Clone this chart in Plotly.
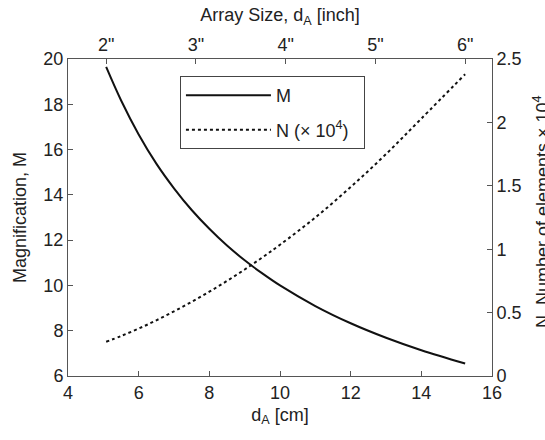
import plotly.graph_objects as go

# Array diameter (cm)
d_cm = [5.08, 5.5, 6.0, 6.5, 7.0, 7.5, 8.0, 8.5, 9.0, 9.5, 10.0, 11.0, 12.0, 13.0, 14.0, 15.24]
# Magnification M
mag = [19.65, 18.18, 16.67, 15.38, 14.29, 13.33, 12.5, 11.76, 11.11, 10.53, 10.0, 9.09, 8.33, 7.69, 7.14, 6.55]
# Number of elements (x 1e4)
n_elem = [0.27, 0.315, 0.374, 0.439, 0.51, 0.585, 0.665, 0.75, 0.84, 0.935, 1.035, 1.25, 1.49, 1.75, 2.03, 2.38]

inch_ticks = [2, 3, 4, 5, 6]
inch_labels = ['2"', '3"', '4"', '5"', '6"']
CM_PER_INCH = 2.54

FONT = "Liberation Sans, Arial, sans-serif"
FS = 18
TXT = "#222222"
AX = "#555555"

fig = go.Figure()
fig.add_trace(go.Scatter(x=d_cm, y=mag, mode="lines", name="M",
                         line=dict(color="#111111", width=2, shape="spline"),
                         legendgroup="a"))
fig.add_trace(go.Scatter(x=d_cm, y=n_elem, mode="lines", name="N (× 10<sup>4</sup>)  ",
                         line=dict(color="#111111", width=2, dash="dot", shape="spline"),
                         yaxis="y2", legendgroup="b"))
# invisible companion trace so the inch axis on top is drawn
fig.add_trace(go.Scatter(x=[v / CM_PER_INCH for v in d_cm], y=mag, mode="lines",
                         line=dict(width=0), opacity=0, xaxis="x2",
                         showlegend=False, hoverinfo="skip"))

axis_common = dict(showline=True, linecolor=AX, linewidth=1, ticks="inside",
                   ticklen=5, tickcolor=AX, showgrid=False, zeroline=False,
                   tickfont=dict(family=FONT, size=FS, color=TXT))

fig.update_layout(
    width=545, height=440,
    margin=dict(l=68, r=53, t=59, b=64),
    paper_bgcolor="white", plot_bgcolor="white",
    font=dict(family=FONT, size=FS, color=TXT),
    xaxis=dict(range=[4, 16], tickvals=[4, 6, 8, 10, 12, 14, 16],
               title=dict(text="d<sub>A</sub> [cm]", standoff=6,
                          font=dict(family=FONT, size=FS, color=TXT)),
               **axis_common),
    xaxis2=dict(range=[4 / CM_PER_INCH, 16 / CM_PER_INCH], overlaying="x", side="top",
                anchor="y", tickvals=inch_ticks, ticktext=inch_labels,
                title=dict(text="Array Size, d<sub>A</sub> [inch]", standoff=8,
                           font=dict(family=FONT, size=FS, color=TXT)),
                **axis_common),
    yaxis=dict(range=[6, 20], tickvals=[6, 8, 10, 12, 14, 16, 18, 20],
               title=dict(text="Magnification, M", standoff=12,
                          font=dict(family=FONT, size=FS, color=TXT)),
               **axis_common),
    yaxis2=dict(range=[0, 2.5], overlaying="y", side="right", anchor="x",
                tickvals=[0, 0.5, 1, 1.5, 2, 2.5], ticktext=["0", "0.5", "1", "1.5", "2", "2.5"],
                **axis_common),
    legend=dict(x=0.264, y=0.946, xanchor="left", yanchor="top",
                bordercolor="#444444", borderwidth=1, bgcolor="white",
                font=dict(family=FONT, size=FS, color=TXT),
                tracegroupgap=8, itemwidth=85),
    showlegend=True,
)

fig.add_annotation(text="N, Number of elements × 10<sup>4</sup>", textangle=-90,
                   xref="paper", yref="paper", x=(541 - 68) / 424, y=(376 - 212) / 317,
                   xanchor="center", yanchor="middle", showarrow=False,
                   font=dict(family=FONT, size=FS, color=TXT))

fig.write_html("out.html")
